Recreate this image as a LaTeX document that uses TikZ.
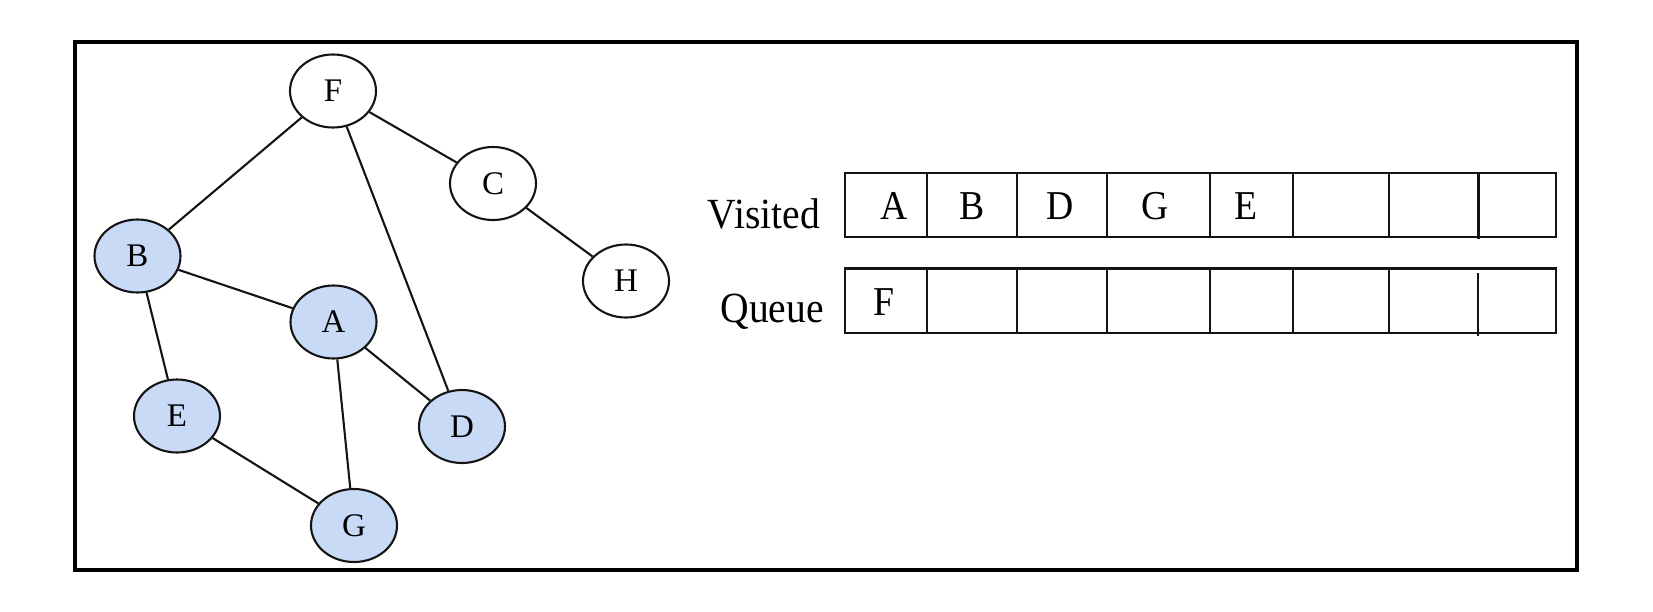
\documentclass[tikz,border=0pt]{standalone}
\usepackage{graphicx}
\usepackage{fontspec}
\setmainfont{Liberation Serif}
\usetikzlibrary{shapes.geometric}
\definecolor{visitfill}{RGB}{201,218,247}
\definecolor{ink}{RGB}{20,20,20}
\begin{document}
\begin{tikzpicture}[x=1pt,y=-1pt,
  vertex/.style={ellipse, draw=ink, line width=2.1pt, minimum width=86pt,
    minimum height=73pt, inner sep=0pt, fill=white,
    font=\fontsize{33}{36}\selectfont},
  seen/.style={vertex, fill=visitfill},
  edge/.style={draw=ink, line width=2.1pt},
  cellline/.style={draw=ink, line width=2.1pt},
  rowlabel/.style={anchor=base east, inner sep=0pt,
    font=\fontsize{43}{46}\selectfont},
  entry/.style={anchor=base, inner sep=0pt,
    font=\fontsize{41}{44}\selectfont}]
\useasboundingbox (0,0) rectangle (1653,611);

% outer frame
\draw[line width=4pt, black] (75,42.3) rectangle (1576.7,569.7);

% graph vertices
\node[vertex] (F) at (333,91)    {F};
\node[vertex] (C) at (493,183.5) {C};
\node[vertex] (H) at (626,281)   {H};
\node[seen]   (B) at (137.5,256) {B};
\node[seen]   (A) at (333.5,322) {A};
\node[seen]   (E) at (177,416)   {E};
\node[seen]   (D) at (462,426.5) {D};
\node[seen]   (G) at (354,525.5) {G};

% graph edges
\draw[edge] (F) -- (B);
\draw[edge] (F) -- (C);
\draw[edge] (F) -- (D);
\draw[edge] (C) -- (H);
\draw[edge] (B) -- (A);
\draw[edge] (B) -- (E);
\draw[edge] (A) -- (D);
\draw[edge] (A) -- (G);
\draw[edge] (E) -- (G);

% row labels
\node[rowlabel] (vlab) at (820,228) {\scalebox{0.92}[1]{Visited}};
\node[rowlabel] (qlab) at (824,322) {\scalebox{0.92}[1]{Queue}};

% visited row cells
\draw[cellline] (845,172.7) rectangle (1556,237.3);
\foreach \cx in {926.6,1017.3,1107.3,1209.8,1293,1389.3}
  \draw[cellline] (\cx,172.7) -- (\cx,237.3);
\draw[cellline] (1478.5,172.7) -- (1478.5,239);

% queue row cells
\draw[cellline] (845,268.5) rectangle (1556,332.7);
\foreach \cx in {926.6,1017.3,1107.3,1209.8,1293,1389.3}
  \draw[cellline] (\cx,268.5) -- (\cx,332.7);
\draw[cellline] (1478,273) -- (1478,336);

% visited entries
\node[entry] (v1) at (894,219)    {\scalebox{0.92}[1]{A}};
\node[entry] (v2) at (972,219)    {\scalebox{0.92}[1]{B}};
\node[entry] (v3) at (1060,219)   {\scalebox{0.92}[1]{D}};
\node[entry] (v4) at (1155,219)   {\scalebox{0.92}[1]{G}};
\node[entry] (v5) at (1246.5,219) {\scalebox{0.92}[1]{E}};

% queue entries
\node[entry] (q1) at (884,315) {\scalebox{0.92}[1]{F}};
\end{tikzpicture}
\end{document}
